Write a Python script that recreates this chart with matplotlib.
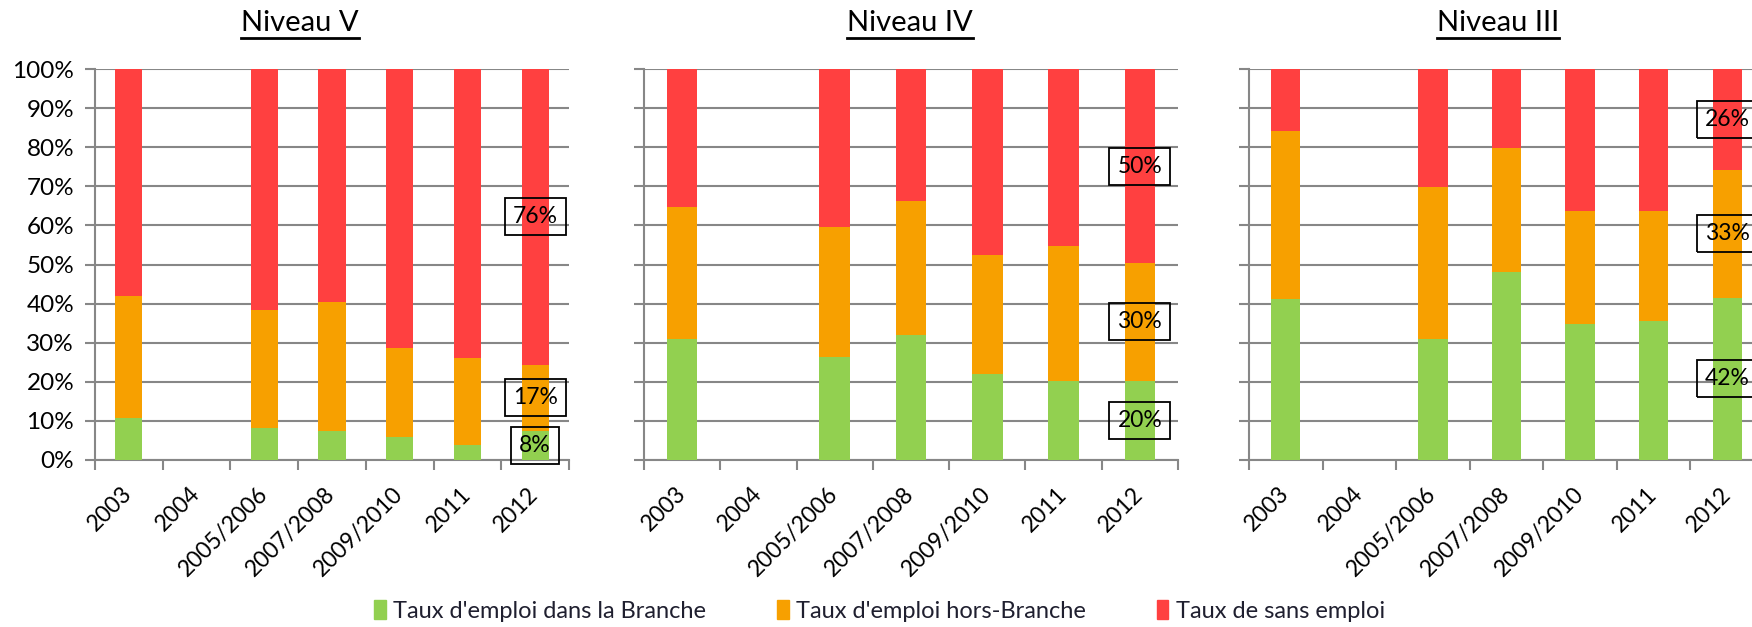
import numpy as np
import matplotlib
matplotlib.use("Agg")
import matplotlib.pyplot as plt
from matplotlib.lines import Line2D
from matplotlib.patches import Patch

plt.rcParams['font.family'] = ['Lato', 'DejaVu Sans']

years = ["2003", "2004", "2005/2006", "2007/2008", "2009/2010", "2011", "2012"]
levels = ["Niveau V", "Niveau IV", "Niveau III"]
series_names = ["Taux d'emploi dans la Branche", "Taux d'emploi hors-Branche", "Taux de sans emploi"]
colors = ["#92d050", "#f7a000", "#ff4040"]

# values in %, None = no data for 2004
niv5_branche = [10.7, None, 8.3, 7.5, 5.8, 3.8, 7.5]
niv5_hors = [31.2, None, 30.1, 33.0, 22.8, 22.4, 16.9]
niv5_sans = [58.1, None, 61.6, 59.5, 71.4, 73.8, 75.6]

niv4_branche = [31.0, None, 26.4, 31.9, 21.9, 20.2, 20.3]
niv4_hors = [33.6, None, 33.3, 34.4, 30.5, 34.5, 30.0]
niv4_sans = [35.4, None, 40.3, 33.7, 47.6, 45.3, 49.7]

niv3_branche = [41.1, None, 31.0, 48.1, 34.7, 35.6, 41.5]
niv3_hors = [43.1, None, 38.7, 31.8, 28.9, 28.0, 32.7]
niv3_sans = [15.8, None, 30.3, 20.1, 36.4, 36.4, 25.8]

panels = [
    (niv5_branche, niv5_hors, niv5_sans),
    (niv4_branche, niv4_hors, niv4_sans),
    (niv3_branche, niv3_hors, niv3_sans),
]

W, H = 1752, 627
fig = plt.figure(figsize=(W / 100, H / 100), dpi=100)

# axes boxes in pixels (left, width), panel 3 runs off the right edge like the original
boxes = [(95, 474), (644, 534), (1249, 515)]
title_x = [300, 910, 1498]
y_bottom, y_top = 460, 69
grid_col = "#878787"

for k, (series, (left, width)) in enumerate(zip(panels, boxes)):
    ax = fig.add_axes([left / W, 1 - y_bottom / H, width / W, (y_bottom - y_top) / H])
    x = np.arange(len(years))
    bottom = np.zeros(len(years))
    for vals, col in zip(series, colors):
        v = np.array([np.nan if a is None else a for a in vals]) / 100
        ok = ~np.isnan(v)
        ax.bar(x[ok], v[ok], 0.4, bottom=bottom[ok], color=col, zorder=3)
        # label on the last bar
        ax.text(x[-1], bottom[-1] + v[-1] / 2, f"{v[-1] * 100:.0f}%", ha="center", va="center",
                fontsize=16.5, zorder=5,
                bbox=dict(boxstyle="square,pad=0.35", fc="none", ec="black", lw=1.3))
        bottom = bottom + np.nan_to_num(v)

    ax.set_xlim(-0.5, len(years) - 0.5)
    ax.set_ylim(0, 1)
    ax.set_yticks(np.arange(0, 1.01, 0.1))
    if k == 0:
        ax.set_yticklabels([f"{int(round(t * 100))}%" for t in np.arange(0, 1.01, 0.1)], fontsize=17.5)
    else:
        ax.set_yticklabels([])
    ax.yaxis.grid(True, color=grid_col, lw=1.5, zorder=0)
    ax.set_xticks(x)
    ax.set_xticklabels(years, rotation=45, ha="right", va="center", rotation_mode="anchor", fontsize=16.5)
    ax.set_xticks(np.arange(-0.5, len(years)), minor=True)
    ax.tick_params(axis="x", which="major", length=0, pad=22)
    ax.tick_params(axis="x", which="minor", length=7, width=1.5, color=grid_col)
    ax.tick_params(axis="y", length=7, width=1.5, color=grid_col, pad=8)
    for s in ["top", "right"]:
        ax.spines[s].set_visible(False)
    for s in ["left", "bottom"]:
        ax.spines[s].set_color(grid_col)
        ax.spines[s].set_linewidth(1.5)

    # underlined title
    t = fig.text(title_x[k] / W, 1 - 23 / H, levels[k], ha="center", va="center", fontsize=21)
    fig.canvas.draw()
    bb = t.get_window_extent(renderer=fig.canvas.get_renderer())
    yl = 1 - 38 / H
    fig.add_artist(Line2D([bb.x0 / W, bb.x1 / W], [yl, yl], color="black", lw=2))

handles = [Patch(color=c, label=n) for c, n in zip(colors, series_names)]
fig.legend(handles=handles, loc="center", bbox_to_anchor=(0.502, 0.026), ncol=3, frameon=False,
           fontsize=17, handlelength=0.5, handleheight=0.9, handletextpad=0.3, columnspacing=3.0,
           labelcolor="#1f1f2f")

fig.savefig("out.png", dpi=100)
